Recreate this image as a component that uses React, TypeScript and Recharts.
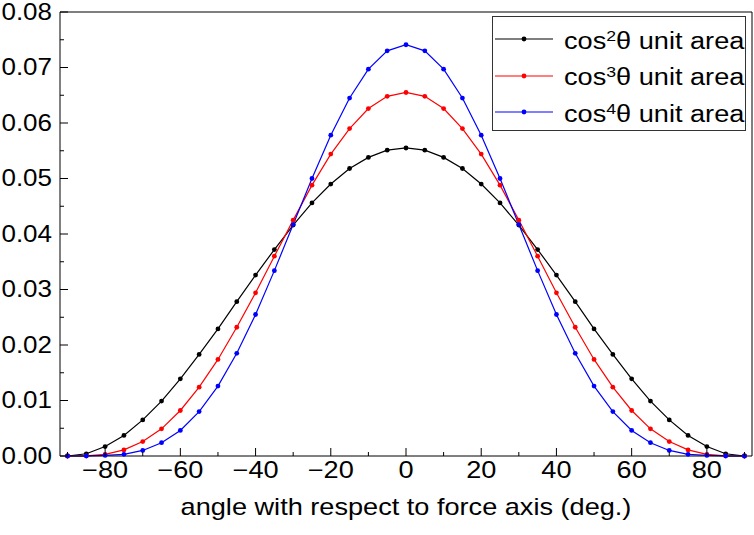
import React from 'react'
import { LineChart, Line, XAxis, YAxis, Legend, ReferenceLine } from 'recharts'

// angle (deg.) sampled every 5 degrees
const angles = [
  -90, -85, -80, -75, -70, -65, -60, -55, -50, -45, -40, -35, -30, -25, -20, -15, -10, -5, 0,
  5, 10, 15, 20, 25, 30, 35, 40, 45, 50, 55, 60, 65, 70, 75, 80, 85, 90,
]

// values
const cos2Area = [
  0, 0.0004, 0.0017, 0.0037, 0.0065, 0.0099, 0.0139, 0.0183, 0.0229, 0.0278, 0.0326, 0.0372,
  0.0416, 0.0456, 0.049, 0.0518, 0.0538, 0.0551, 0.0555, 0.0551, 0.0538, 0.0518, 0.049, 0.0456,
  0.0416, 0.0372, 0.0326, 0.0278, 0.0229, 0.0183, 0.0139, 0.0099, 0.0065, 0.0037, 0.0017, 0.0004, 0,
]
const cos3Area = [
  0, 0.00004, 0.0003, 0.0011, 0.0026, 0.0049, 0.0082, 0.0124, 0.0174, 0.0232, 0.0294, 0.036,
  0.0425, 0.0488, 0.0544, 0.059, 0.0626, 0.0648, 0.0655, 0.0648, 0.0626, 0.059, 0.0544, 0.0488,
  0.0425, 0.036, 0.0294, 0.0232, 0.0174, 0.0124, 0.0082, 0.0049, 0.0026, 0.0011, 0.0003, 0.00004, 0,
]
const cos4Area = [
  0, 0, 0.0001, 0.0003, 0.001, 0.0024, 0.0046, 0.008, 0.0126, 0.0185, 0.0255, 0.0334, 0.0417,
  0.05, 0.0578, 0.0645, 0.0697, 0.073, 0.0741, 0.073, 0.0697, 0.0645, 0.0578, 0.05, 0.0417,
  0.0334, 0.0255, 0.0185, 0.0126, 0.008, 0.0046, 0.0024, 0.001, 0.0003, 0.0001, 0, 0,
]

const xTicks = [-90, -80, -70, -60, -50, -40, -30, -20, -10, 0, 10, 20, 30, 40, 50, 60, 70, 80, 90]
const xLabelTicks = [-80, -60, -40, -20, 0, 20, 40, 60, 80]
const yTicks = [
  0, 0.005, 0.01, 0.015, 0.02, 0.025, 0.03, 0.035, 0.04, 0.045, 0.05, 0.055, 0.06, 0.065,
  0.07, 0.075, 0.08,
]
const yLabelTicks = ['0.00', '0.01', '0.02', '0.03', '0.04', '0.05', '0.06', '0.07', '0.08']

const series = [
  { key: 'cos2', power: '2', color: '#000000' },
  { key: 'cos3', power: '3', color: '#ff0000' },
  { key: 'cos4', power: '4', color: '#0000ff' },
]

const data = angles.map((angle, i) => ({
  angle,
  cos2: cos2Area[i],
  cos3: cos3Area[i],
  cos4: cos4Area[i],
}))

const FONT = '"Liberation Sans", Arial, sans-serif'
const STRETCH = 1.18

const fmtAngle = (v: number) => (v < 0 ? `\u2212${Math.abs(v)}` : `${v}`)

const XTick = (props: any) => {
  const { x, y, payload } = props
  const major = xLabelTicks.includes(payload.value)
  return (
    <g>
      <line x1={x} x2={x} y1={y} y2={y - (major ? 8 : 4)} stroke="#000" />
      {major && (
        <text
          transform={`translate(${x},${y + 22}) scale(${STRETCH},1)`}
          textAnchor="middle"
          fontSize={23}
          fontFamily={FONT}
          fill="#000"
        >
          {fmtAngle(payload.value)}
        </text>
      )}
    </g>
  )
}

const YTick = (props: any) => {
  const { x, y, payload } = props
  const label = payload.value.toFixed(2)
  const major = yLabelTicks.includes(label) && Math.round(payload.value * 200) % 2 === 0
  return (
    <g>
      <line x1={x} x2={x + (major ? 8 : 4)} y1={y} y2={y} stroke="#000" />
      {major && (
        <text
          transform={`translate(${x - 8},${y + 7.5}) scale(1.13,1)`}
          textAnchor="end"
          fontSize={23}
          fontFamily={FONT}
          fill="#000"
        >
          {label}
        </text>
      )}
    </g>
  )
}

const XLabel = (props: any) => {
  const { viewBox } = props
  const cx = viewBox.x + viewBox.width / 2
  return (
    <text
      transform={`translate(${cx},${viewBox.y + 59}) scale(${STRETCH},1)`}
      textAnchor="middle"
      fontSize={23}
      fontFamily={FONT}
      fill="#000"
    >
      angle with respect to force axis (deg.)
    </text>
  )
}

const LegendBox = () => (
  <div
    style={{
      width: 254,
      height: 115,
      boxSizing: 'border-box',
      border: '1px solid #333',
      background: '#fff',
      padding: '4px 0 0 2px',
      fontFamily: FONT,
      color: '#000',
    }}
  >
    {series.map((s) => (
      <div key={s.key} style={{ display: 'flex', alignItems: 'center', height: 36.5 }}>
        <svg width={58} height={10} style={{ flex: 'none' }}>
          <line x1={0} x2={58} y1={5} y2={5} stroke={s.color} strokeWidth={1.2} />
          <circle cx={29} cy={5} r={2.4} fill={s.color} />
        </svg>
        <span
          style={{
            marginLeft: 11,
            fontSize: 23,
            lineHeight: 1,
            whiteSpace: 'nowrap',
            display: 'inline-block',
            transform: `scaleX(${STRETCH})`,
            transformOrigin: 'left center',
            position: 'relative',
            top: 2,
          }}
        >
          cos
          <span style={{ fontSize: 15, position: 'relative', top: -8 }}>{s.power}</span>
          θ unit area
        </span>
      </div>
    ))}
  </div>
)

export default function App() {
  return (
    <div style={{ position: 'absolute', left: 0, top: 0, width: 754, height: 535, background: '#fff' }}>
      <style>{`body{margin:0}`}</style>
      <LineChart width={754} height={535} data={data} margin={{ top: 12, right: 2, bottom: 0, left: 0 }}>
        <XAxis
          dataKey="angle"
          type="number"
          domain={[-92, 92]}
          ticks={xTicks}
          interval={0}
          height={79}
          axisLine={{ stroke: '#000' }}
          tickLine={false}
          tickSize={0}
          tickMargin={0}
          tick={<XTick />}
          label={<XLabel />}
        />
        <YAxis
          type="number"
          domain={[0, 0.08]}
          ticks={yTicks}
          interval={0}
          width={60}
          axisLine={{ stroke: '#000' }}
          tickLine={false}
          tickSize={0}
          tickMargin={0}
          tick={<YTick />}
        />
        <ReferenceLine y={0.08} stroke="#000" />
        <ReferenceLine x={92} stroke="#000" />
        {series.map((s) => (
          <Line
            key={s.key}
            type="linear"
            dataKey={s.key}
            stroke={s.color}
            strokeWidth={1.2}
            dot={{ r: 2.4, fill: s.color, stroke: s.color, strokeWidth: 0 }}
            activeDot={false}
            isAnimationActive={false}
          />
        ))}
        <Legend
          layout="vertical"
          align="center"
          verticalAlign="middle"
          content={<LegendBox />}
          wrapperStyle={{ left: 492, top: 16, width: 254, height: 115 }}
        />
      </LineChart>
    </div>
  )
}
